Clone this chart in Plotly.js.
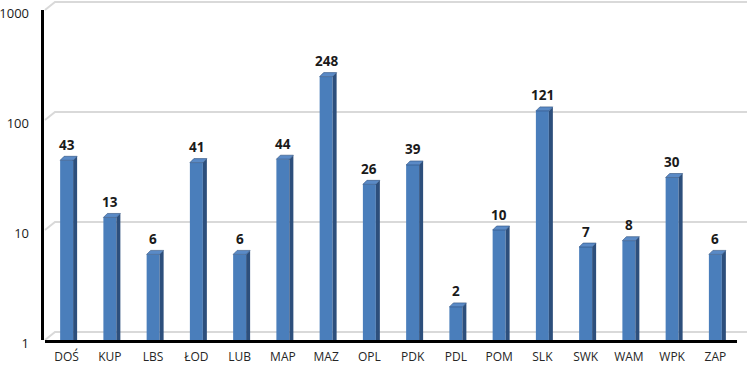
<!DOCTYPE html>
<html><head><meta charset="utf-8">
<script src="https://cdn.plot.ly/plotly-3.0.1.min.js"></script>
<style>html,body{margin:0;padding:0;background:#fff}</style>
</head><body><div id="chart" style="width:750px;height:366px"></div>
<script>
const categories = ['DOŚ','KUP','LBS','ŁOD','LUB','MAP','MAZ','OPL','PDK','PDL','POM','SLK','SWK','WAM','WPK','ZAP'];
const values = [43,13,6,41,6,44,248,26,39,2,10,121,7,8,30,6];
const tickVals = [1,10,100,1000];
const tickText = ['1','10','100','1000'];

const W = 750, H = 366;
const margin = {l:45, r:13, t:1, b:25.5};
const plotW = W - margin.l - margin.r;
const plotH = H - margin.t - margin.b;
const decadePx = (340.5 - 10) / 3;
const yTop = plotH / decadePx;
const barWidth = 0.3;
const catPx = plotW / categories.length;
const hw = barWidth * catPx / 2;
const depth = 4;
const gx = 10, gy = 8;

const frontColor = '#4a7ebb';
const sideColor = '#2d4f7c';
const topColor = '#5a8ac6';

const idx = categories.map((c,i)=>i);

const shapes = [];
tickVals.forEach(t => {
  shapes.push({type:'path', xref:'paper', yref:'y', xsizemode:'pixel', ysizemode:'pixel',
    xanchor:0, yanchor:t, path:`M 0,0 L ${gx},${gy} L ${plotW+gx},${gy}`,
    line:{color:'#d9d9d9', width:2}, layer:'below'});
});
shapes.push({type:'line', xref:'paper', yref:'y', xsizemode:'pixel', xanchor:0, x0:-2.5, x1:-2.5,
  y0:tickVals[0], y1:tickVals[tickVals.length-1],
  line:{color:'#000', width:3}, layer:'above'});
idx.forEach(i => {
  const v = values[i];
  shapes.push({type:'path', xref:'x', yref:'y', xsizemode:'pixel', ysizemode:'pixel',
    xanchor:i, yanchor:v, path:`M ${hw},0 L ${hw+depth},${depth} L ${hw+depth},-600 L ${hw},-600 Z`,
    fillcolor:sideColor, line:{width:0}, layer:'above'});
  shapes.push({type:'path', xref:'x', yref:'y', xsizemode:'pixel', ysizemode:'pixel',
    xanchor:i, yanchor:v, path:`M ${-hw},0 L ${-hw+depth},${depth} L ${hw+depth},${depth} L ${hw},0 Z`,
    fillcolor:topColor, line:{color:'#2d4f7c', width:0.6}, layer:'above'});
});

const annotations = idx.map(i => ({
  x:i, y:Math.log10(values[i]), xref:'x', yref:'y', text:String(values[i]),
  showarrow:false, yanchor:'middle', yshift:15.5,
  font:{family:'Open Sans, sans-serif', size:13.5, color:'#1a1a1a', weight:'bold'}
}));

const data = [{
  type:'bar', x:idx, y:values, width:barWidth,
  marker:{color:frontColor, line:{width:0}}, hoverinfo:'x+y'
}];

const layout = {
  width:W, height:H, margin:margin,
  paper_bgcolor:'#fff', plot_bgcolor:'rgba(0,0,0,0)',
  showlegend:false,
  xaxis:{type:'linear', range:[-0.5, categories.length-0.5], tickmode:'array', tickvals:idx, ticktext:categories,
    showgrid:false, zeroline:false, showline:true, linecolor:'#000', linewidth:3, ticks:'',
    tickfont:{family:'Open Sans, sans-serif', size:12, color:'#262626'}, ticklabelstandoff:4},
  yaxis:{type:'log', range:[0, yTop], tickmode:'array', tickvals:tickVals, ticktext:tickText,
    showgrid:false, zeroline:false, showline:false, ticks:'',
    tickfont:{family:'Open Sans, sans-serif', size:13, color:'#1a1a1a'}, ticklabelstandoff:15, ticklabelshift:3},
  shapes:shapes, annotations:annotations
};

Plotly.newPlot('chart', data, layout, {displayModeBar:false, staticPlot:true});
</script></body></html>
